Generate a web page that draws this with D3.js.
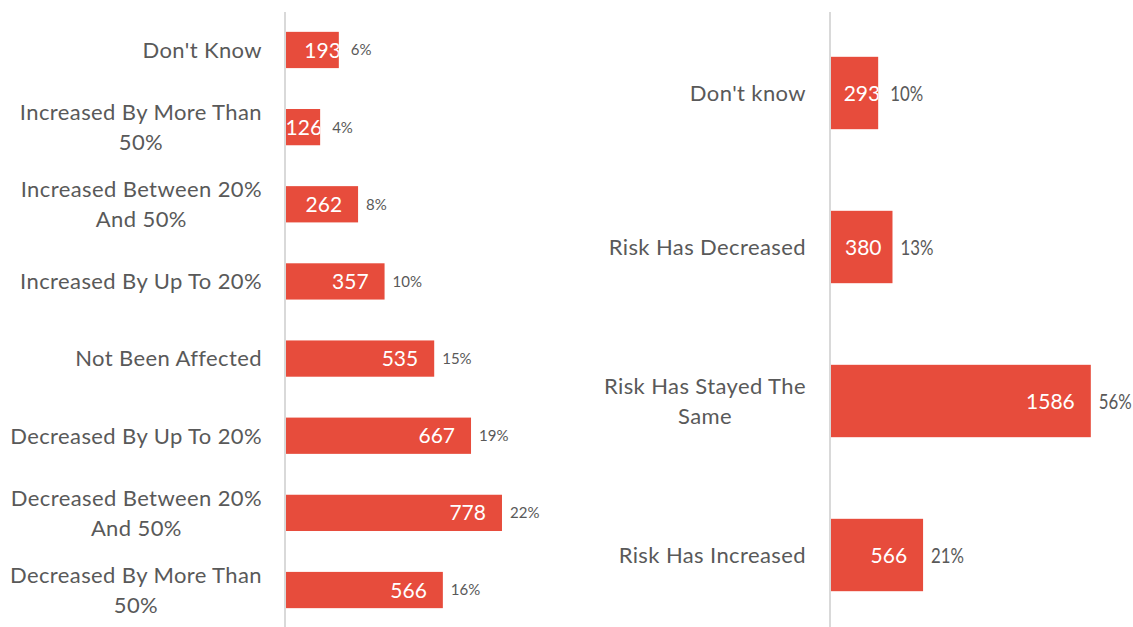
<!DOCTYPE html>
<html>
<head>
<meta charset="utf-8">
<script src="https://cdn.jsdelivr.net/npm/d3@7"></script>
<style>
  html, body { margin: 0; padding: 0; background: #fff; }
  svg { display: block; }
</style>
</head>
<body>
<svg id="chart" width="1133" height="627"></svg>
<script>
// Change in volume: categories, counts and shares
const changeCategories = [
  ["Don't Know"],
  ["Increased By More Than", "50%"],
  ["Increased Between 20%", "And 50%"],
  ["Increased By Up To 20%"],
  ["Not Been Affected"],
  ["Decreased By Up To 20%"],
  ["Decreased Between 20%", "And 50%"],
  ["Decreased By More Than", "50%"]
];
const changeCounts = [193, 126, 262, 357, 535, 667, 778, 566];
const changeShares = ["6%", "4%", "8%", "10%", "15%", "19%", "22%", "16%"];

// Perceived risk: categories, counts and shares
const riskCategories = [
  ["Don't know"],
  ["Risk Has Decreased"],
  ["Risk Has Stayed The", "Same"],
  ["Risk Has Increased"]
];
const riskCounts = [293, 380, 1586, 566];
const riskShares = ["10%", "13%", "56%", "21%"];

const BAR = "#e74c3c";
const TEXT = "#595959";
const AXIS = "#d9d9d9";
const FONT = "Lato, 'Open Sans', sans-serif";

const svg = d3.select("#chart");

function drawPanel(cfg) {
  const g = svg.append("g");
  const labels = cfg.categories.map((c, i) => i);

  const y = d3.scaleBand()
    .domain(labels)
    .range([cfg.y0, cfg.y1])
    .paddingInner(0.53)
    .paddingOuter(0.265);

  const x = d3.scaleLinear()
    .domain([0, cfg.xMax])
    .range([cfg.axisX, cfg.axisX + cfg.width]);

  // clip paths so value labels stay inside their bars
  const defs = svg.append("defs");
  labels.forEach(i => {
    defs.append("clipPath").attr("id", cfg.id + "-clip-" + i)
      .append("rect")
      .attr("x", x(0))
      .attr("y", y(i))
      .attr("width", x(cfg.values[i]) - x(0))
      .attr("height", y.bandwidth());
  });

  // bars
  g.selectAll("rect.bar")
    .data(labels)
    .join("rect")
    .attr("class", "bar")
    .attr("x", x(0))
    .attr("y", i => y(i))
    .attr("width", i => x(cfg.values[i]) - x(0))
    .attr("height", y.bandwidth())
    .attr("fill", BAR);

  // vertical category axis line
  g.append("line")
    .attr("x1", cfg.axisX).attr("x2", cfg.axisX)
    .attr("y1", 12).attr("y2", 627)
    .attr("stroke", AXIS)
    .attr("stroke-width", 2);

  // value labels at the inside end of each bar
  const valueEnds = [];
  g.selectAll("text.val")
    .data(labels)
    .join("text")
    .attr("class", "val")
    .attr("clip-path", i => "url(#" + cfg.id + "-clip-" + i + ")")
    .attr("y", i => y(i) + y.bandwidth() / 2)
    .attr("dy", "0.36em")
    .attr("font-family", FONT)
    .attr("font-size", 21)
    .attr("fill", "#ffffff")
    .text(i => cfg.values[i])
    .each(function(i) {
      const w = this.getComputedTextLength();
      const barW = x(cfg.values[i]) - x(0);
      let start;
      if (barW < w + 22) {
        // narrow bar: label runs to the bar end
        start = x(cfg.values[i]) + 2 - w;
      } else {
        start = Math.max(x(cfg.values[i]) - 16 - w, x(0) + 15);
      }
      valueEnds[i] = start + w;
      d3.select(this).attr("x", start);
    });

  // share labels after the bar, clear of any overflowing value label
  g.selectAll("text.pct")
    .data(labels)
    .join("text")
    .attr("class", "pct")
    .attr("transform", i => {
      const px = Math.max(x(cfg.values[i]) + cfg.pctGap, valueEnds[i] + 10);
      const py = y(i) + y.bandwidth() / 2;
      return `translate(${px},${py}) scale(${cfg.pctStretch},1)`;
    })
    .attr("dy", "0.36em")
    .attr("font-family", cfg.pctFont)
    .attr("font-size", cfg.pctSize)
    .attr("fill", TEXT)
    .text(i => cfg.shares[i]);

  // category labels, right-aligned block with centered lines
  labels.forEach(i => {
    const lines = cfg.categories[i];
    const cy = y(i) + y.bandwidth() / 2;
    const lh = 30;
    const tg = g.append("g");
    const texts = lines.map((line, k) =>
      tg.append("text")
        .attr("y", cy + (k - (lines.length - 1) / 2) * lh)
        .attr("dy", "0.36em")
        .attr("font-family", FONT)
        .attr("font-size", 22)
        .attr("letter-spacing", "0.4px")
        .attr("fill", TEXT)
        .attr("text-anchor", "middle")
        .text(line)
    );
    const maxW = d3.max(texts, t => t.node().getComputedTextLength());
    texts.forEach(t => t.attr("x", cfg.labelRight - maxW / 2));
  });
}

drawPanel({
  id: "change",
  categories: changeCategories,
  values: changeCounts,
  shares: changeShares,
  axisX: 285,
  xMax: 900,
  width: 251,
  y0: 11.4,
  y1: 628.6,
  labelRight: 262,
  pctGap: 8,
  pctFont: FONT,
  pctSize: 15,
  pctStretch: 1
});

drawPanel({
  id: "risk",
  categories: riskCategories,
  values: riskCounts,
  shares: riskShares,
  axisX: 830,
  xMax: 1800,
  width: 296,
  y0: 16,
  y1: 632,
  labelRight: 806,
  pctGap: 8,
  pctFont: FONT,
  pctSize: 21,
  pctStretch: 0.8
});
</script>
</body>
</html>
